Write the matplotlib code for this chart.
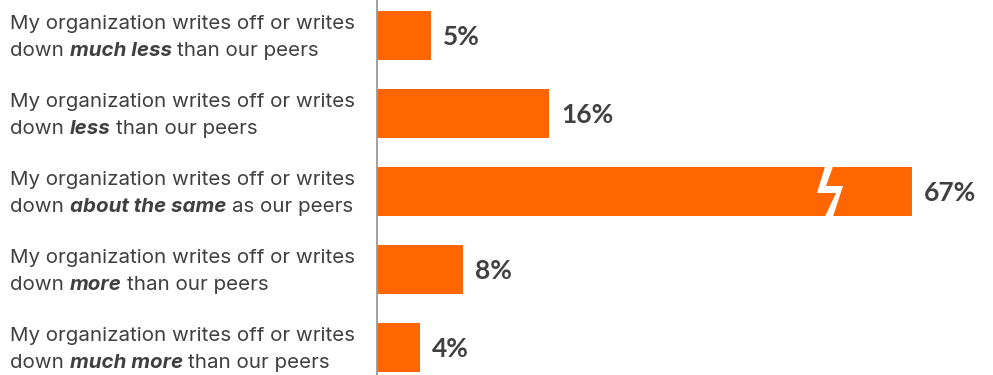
import numpy as np
import matplotlib
matplotlib.use("Agg")
import matplotlib.pyplot as plt
import matplotlib.transforms as mtransforms
from matplotlib.patches import Polygon

# ---- data -------------------------------------------------------------
lead_line = "My organization writes off or writes"
emphasis = ["much less", "less", "about the same", "more", "much more"]
tails = ["than our peers", "than our peers", "as our peers", "than our peers", "than our peers"]
shares = [5, 16, 67, 8, 4]
value_labels = ["5%", "16%", "67%", "8%", "4%"]

# ---- style ------------------------------------------------------------
BAR_COLOR = "#FF6600"
TEXT_COLOR = "#404040"
AXIS_COLOR = "#9a9a9a"
FONT = "Inter"
VALUE_FONT = "Lato"
LABEL_SIZE = 14.8
VALUE_SIZE = 19

# broken value axis: the span between BREAK_LO and BREAK_HI is cut out
BREAK_LO, BREAK_HI = 42.0, 59.2


def fwd(x):
    x = np.asarray(x, dtype=float)
    return np.where(x <= BREAK_LO, x,
                    np.where(x >= BREAK_HI, x - (BREAK_HI - BREAK_LO), BREAK_LO))


def inv(x):
    x = np.asarray(x, dtype=float)
    return np.where(x <= BREAK_LO, x, x + (BREAK_HI - BREAK_LO))


W, H = 993, 375
DPI = 100
fig = plt.figure(figsize=(W / DPI, H / DPI), dpi=DPI)
ax = fig.add_axes([377 / W, 0, 1 - 377 / W, 1])
ax.set_xscale("function", functions=(fwd, inv))
ax.set_xlim(0, float(inv(57.3)))

ypos = np.arange(len(shares))
ax.set_ylim(4.353, -0.455)
ax.barh(ypos, shares, height=0.628, color=BAR_COLOR, zorder=2)

for side in ("top", "right", "bottom"):
    ax.spines[side].set_visible(False)
ax.spines["left"].set_color(AXIS_COLOR)
ax.spines["left"].set_linewidth(1.3)
ax.spines["left"].set_zorder(3)
ax.set_xticks([])
ax.set_yticks([])
ax.patch.set_alpha(0)

px = fig.dpi / 100.0  # pixel -> dot factor

# lightning-bolt break mark over bars that cross the cut
bolt = np.array([(-3.5, 25), (4.5, 25), (-2.5, 5.5), (14.5, 5.5),
                 (4.5, -25), (-3.5, -25), (7.5, -1.5), (-11.5, -1.5)])
for yi, v in zip(ypos, shares):
    if v > BREAK_HI:
        tr = mtransforms.Affine2D().scale(px) + \
            mtransforms.ScaledTranslation(BREAK_LO, yi, ax.transData)
        ax.add_patch(Polygon(bolt, closed=True, facecolor="white",
                             edgecolor="none", transform=tr, zorder=2.5))

# value labels
for yi, v, lbl in zip(ypos, shares, value_labels):
    ax.annotate(lbl, xy=(v, yi), xytext=(12 * px, -9.5 * px),
                textcoords="offset pixels", ha="left", va="baseline",
                fontsize=VALUE_SIZE, fontweight="bold", color=TEXT_COLOR,
                family=VALUE_FONT)

# category labels (two lines, with a bold-italic phrase on the second)
renderer = fig.canvas.get_renderer()
label_base = mtransforms.blended_transform_factory(fig.transFigure, ax.transData)
plain = dict(fontsize=LABEL_SIZE, color=TEXT_COLOR, family=FONT, va="baseline", ha="left")
strong = dict(plain, fontweight="bold", fontstyle="italic")


def width_of(s, style):
    t = fig.text(0, 0, s, **style)
    w = t.get_window_extent(renderer).width
    t.remove()
    return w


space_w = width_of("n n", plain) - width_of("nn", plain)
x0 = 10 / W


def place(s, yi, dx_px, dy_px, style):
    tr = label_base + mtransforms.ScaledTranslation(dx_px * px / fig.dpi,
                                                    dy_px * px / fig.dpi,
                                                    fig.dpi_scale_trans)
    t = ax.text(x0, yi, s, transform=tr, clip_on=False, **style)
    return t.get_window_extent(renderer).width / px


for yi, emph, tail in zip(ypos, emphasis, tails):
    place(lead_line, yi, 0, 6.5, plain)
    x = 0.0
    x += place("down", yi, x, -21, plain) + space_w / px
    x += place(emph, yi, x, -21, strong) + space_w / px
    place(tail, yi, x, -21, plain)

fig.savefig("out.png", dpi=DPI)
